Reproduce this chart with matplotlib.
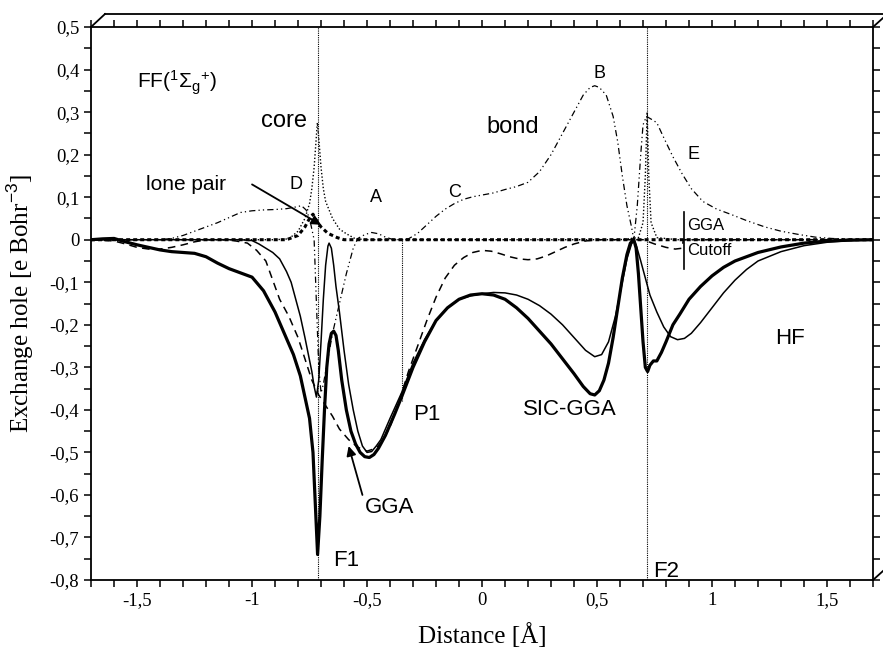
import matplotlib
matplotlib.use("Agg")
import matplotlib.pyplot as plt
from matplotlib.lines import Line2D
from matplotlib.ticker import MultipleLocator, FuncFormatter

plt.rcParams['axes.unicode_minus'] = False
plt.rcParams['mathtext.fontset'] = 'custom'
plt.rcParams['mathtext.rm'] = 'Liberation Sans'
plt.rcParams['mathtext.it'] = 'Liberation Sans'

# 1) data
# SIC-GGA (thick solid)
sic_x = [-1.70, -1.65, -1.60, -1.55, -1.50, -1.45, -1.40, -1.35, -1.30, -1.25, -1.20, -1.15,
         -1.10, -1.05, -1.00, -0.95, -0.90, -0.86, -0.82, -0.79, -0.77, -0.75, -0.735, -0.725,
         -0.715, -0.705, -0.695, -0.685, -0.675, -0.665, -0.655, -0.645, -0.635, -0.625, -0.61,
         -0.59, -0.57, -0.55, -0.53, -0.51, -0.49, -0.47, -0.45, -0.42, -0.38, -0.35, -0.30,
         -0.25, -0.20, -0.15, -0.10, -0.05, 0.00, 0.05, 0.10, 0.15, 0.20, 0.25, 0.30, 0.35,
         0.40, 0.44, 0.47, 0.49, 0.51, 0.53, 0.55, 0.57, 0.59, 0.61, 0.63, 0.645, 0.66, 0.67,
         0.68, 0.69, 0.70, 0.71, 0.72, 0.73, 0.745, 0.76, 0.78, 0.80, 0.83, 0.86, 0.90, 0.95,
         1.00, 1.05, 1.10, 1.20, 1.30, 1.40, 1.50, 1.60, 1.70]
sic_y = [0.0, 0.002, 0.003, -0.005, -0.012, -0.018, -0.024, -0.028, -0.030, -0.032, -0.040, -0.055,
         -0.068, -0.078, -0.088, -0.12, -0.17, -0.22, -0.27, -0.32, -0.37, -0.42, -0.50, -0.62,
         -0.74, -0.65, -0.52, -0.40, -0.30, -0.245, -0.22, -0.215, -0.225, -0.26, -0.33,
         -0.40, -0.45, -0.48, -0.50, -0.51, -0.512, -0.505, -0.49, -0.46, -0.41, -0.37, -0.30,
         -0.24, -0.19, -0.16, -0.14, -0.13, -0.127, -0.13, -0.14, -0.16, -0.185, -0.215, -0.245, -0.28,
         -0.315, -0.345, -0.362, -0.365, -0.355, -0.33, -0.29, -0.23, -0.16, -0.09, -0.035, -0.008, 0.0, -0.02,
         -0.08, -0.16, -0.24, -0.30, -0.31, -0.295, -0.285, -0.285, -0.265, -0.24, -0.20, -0.175, -0.14, -0.11,
         -0.085, -0.065, -0.05, -0.03, -0.017, -0.008, -0.003, -0.001, 0.0]

# HF (thin solid)
hf_x = [-1.70, -1.05, -1.00, -0.97, -0.94, -0.91, -0.88, -0.85, -0.83, -0.81, -0.79, -0.77,
        -0.755, -0.74, -0.73, -0.72, -0.71, -0.70, -0.69, -0.68, -0.67, -0.665, -0.655, -0.645,
        -0.635, -0.62, -0.60, -0.58, -0.56, -0.54, -0.52, -0.50, -0.48, -0.46, -0.44, -0.40,
        -0.35, -0.30, -0.25, -0.20, -0.15, -0.10, -0.05, 0.00, 0.05, 0.10, 0.15, 0.20, 0.25,
        0.30, 0.35, 0.40, 0.45, 0.49, 0.52, 0.55, 0.58, 0.61, 0.63, 0.65, 0.66, 0.67, 0.69,
        0.71, 0.73, 0.76, 0.79, 0.82, 0.85, 0.88, 0.91, 0.95, 1.00, 1.05, 1.10, 1.15, 1.20,
        1.30, 1.40, 1.50, 1.60, 1.70]
hf_y = [0.0, 0.0, -0.002, -0.01, -0.02, -0.03, -0.045, -0.075, -0.10, -0.14, -0.18, -0.23,
        -0.27, -0.31, -0.345, -0.37, -0.33, -0.24, -0.14, -0.06, -0.015, -0.008, -0.02, -0.06,
        -0.11, -0.17, -0.26, -0.34, -0.40, -0.45, -0.485, -0.50, -0.498, -0.485, -0.47, -0.42,
        -0.36, -0.29, -0.235, -0.19, -0.16, -0.14, -0.132, -0.127, -0.124, -0.125, -0.13, -0.14, -0.155,
        -0.175, -0.20, -0.23, -0.26, -0.275, -0.27, -0.24, -0.18, -0.10, -0.045, -0.01, -0.002, -0.012, -0.05,
        -0.09, -0.13, -0.17, -0.205, -0.228, -0.235, -0.232, -0.22, -0.195, -0.16, -0.125, -0.095, -0.07, -0.05,
        -0.028, -0.014, -0.006, -0.002, 0.0]

# GGA (thin dashed)
gga_x = [-1.70, -1.60, -1.55, -1.50, -1.45, -1.40, -1.35, -1.30, -1.25, -1.20, -1.10, -1.02,
         -0.98, -0.94, -0.91, -0.88, -0.84, -0.80, -0.77, -0.74, -0.71, -0.68, -0.65, -0.62,
         -0.58, -0.54, -0.50, -0.46, -0.43, -0.40, -0.36, -0.32, -0.28, -0.24, -0.20, -0.16,
         -0.12, -0.08, -0.04, 0.00, 0.04, 0.08, 0.12, 0.16, 0.20, 0.24, 0.28, 0.32, 0.36, 0.40,
         0.45, 0.50, 0.70, 0.75, 0.80, 0.84, 0.87, 0.875, 1.70]
gga_y = [0.0, -0.003, -0.01, -0.018, -0.022, -0.022, -0.018, -0.012, -0.005, 0.0, 0.0, -0.008,
         -0.025, -0.05, -0.095, -0.14, -0.18, -0.23, -0.28, -0.33, -0.365, -0.39, -0.415, -0.445,
         -0.47, -0.488, -0.497, -0.49, -0.47, -0.44, -0.38, -0.31, -0.25, -0.19, -0.135, -0.09,
         -0.06, -0.042, -0.03, -0.025, -0.027, -0.033, -0.04, -0.045, -0.047, -0.045, -0.038, -0.028, -0.018, -0.01,
         -0.003, 0.0, 0.0, -0.01, -0.018, -0.022, -0.02, 0.0, 0.0]

# bond / lone pair density (dash-dot-dot)
bond_x = [-1.70, -1.40, -1.35, -1.30, -1.25, -1.20, -1.15, -1.10, -1.05, -1.00, -0.95, -0.90,
          -0.85, -0.81, -0.785, -0.765, -0.75, -0.74, -0.73, -0.72, -0.71, -0.70, -0.69, -0.67,
          -0.65, -0.62, -0.59, -0.56, -0.54, -0.51, -0.48, -0.45, -0.42, -0.39, -0.36, -0.32,
          -0.28, -0.24, -0.20, -0.16, -0.12, -0.08, -0.04, 0.00, 0.05, 0.10, 0.15, 0.20, 0.25,
          0.30, 0.35, 0.40, 0.44, 0.47, 0.49, 0.51, 0.54, 0.57, 0.59, 0.61, 0.63, 0.65, 0.66,
          0.675, 0.69, 0.70, 0.715, 0.74, 0.76, 0.79, 0.83, 0.87, 0.91, 0.96, 1.02, 1.08, 1.15,
          1.23, 1.30, 1.38, 1.45, 1.52, 1.60, 1.70]
bond_y = [0.0, 0.0, 0.003, 0.01, 0.02, 0.03, 0.04, 0.052, 0.064, 0.068, 0.07, 0.071,
          0.073, 0.077, 0.08, 0.07, 0.05, 0.025, 0.0, -0.15, -0.30, -0.36, -0.34, -0.28,
          -0.22, -0.15, -0.08, -0.02, 0.003, 0.012, 0.017, 0.014, 0.006, 0.001, 0.0, 0.002,
          0.015, 0.035, 0.055, 0.072, 0.085, 0.095, 0.101, 0.105, 0.11, 0.118, 0.125, 0.135, 0.16,
          0.20, 0.25, 0.30, 0.34, 0.358, 0.362, 0.358, 0.34, 0.29, 0.23, 0.15, 0.08, 0.03, 0.0,
          0.08, 0.20, 0.27, 0.29, 0.282, 0.275, 0.24, 0.195, 0.155, 0.12, 0.09, 0.072, 0.06, 0.045,
          0.03, 0.02, 0.012, 0.006, 0.003, 0.001, 0.0]

# core density (dotted)
core_x = [-1.70, -0.90, -0.84, -0.80, -0.77, -0.75, -0.74, -0.73, -0.722, -0.716, -0.71, -0.70,
          -0.69, -0.68, -0.65, -0.62, -0.59, -0.55, -0.50, 0.60, 0.68, 0.70, 0.71, 0.718, 0.725,
          0.735, 0.76, 0.85, 1.70]
core_y = [0.0, 0.0, 0.002, 0.02, 0.05, 0.085, 0.12, 0.17, 0.23, 0.275, 0.24, 0.17,
          0.12, 0.09, 0.05, 0.025, 0.014, 0.002, 0.0, 0.0, 0.005, 0.04, 0.15, 0.30, 0.15,
          0.04, 0.005, 0.0, 0.0]

# lone pair (heavy dashed along zero)
lp_x = [-1.70, -0.85, -0.80, -0.77, -0.75, -0.735, -0.72, -0.70, -0.67, -0.63, -0.60, 1.70]
lp_y = [0.0, 0.0, 0.01, 0.03, 0.05, 0.06, 0.045, 0.03, 0.015, 0.005, 0.0, 0.0]

# atom / point positions
f1_x = -0.715
f2_x = 0.717
p1_x = -0.35
p1_y = -0.38
cutoff_x = 0.878

# 2) canvas
fig = plt.figure(figsize=(8.83, 6.48), dpi=100)
ax = fig.add_axes([0.1031, 0.1049, 0.8856, 0.8534])

# 3) curves
ax.plot(lp_x, lp_y, color='k', lw=2.2, dashes=(1.3, 1.0))
ax.plot(bond_x, bond_y, color='k', lw=0.9, dashes=(5, 2.5, 1, 2.5, 1, 2.5))
ax.plot(core_x, core_y, color='k', lw=1.0, dashes=(1, 1.5))
ax.plot(gga_x, gga_y, color='k', lw=1.1, dashes=(5, 3.5))
ax.plot(hf_x, hf_y, color='k', lw=1.1)
ax.plot(sic_x, sic_y, color='k', lw=2.3)

# vertical markers
ax.axvline(f1_x, color='k', lw=0.8, dashes=(1, 1))
ax.axvline(f2_x, color='k', lw=0.8, dashes=(1, 1))
ax.plot([p1_x, p1_x], [0, p1_y], color='k', lw=0.8, dashes=(1, 1))
ax.plot([cutoff_x, cutoff_x], [0.064, -0.068], color='k', lw=1.2)

# 4) labels
sans = 'Liberation Sans'
ax.text(-1.50, 0.37, r'FF($^{1}\Sigma_{\mathrm{g}}{}^{+}$)', fontsize=15, family=sans, va='center')
ax.text(-0.96, 0.28, 'core', fontsize=17, family=sans, va='center')
ax.text(0.02, 0.265, 'bond', fontsize=17, family=sans, va='center')
ax.text(-1.46, 0.13, 'lone pair', fontsize=15, family=sans, va='center')
ax.text(-0.81, 0.13, 'D', fontsize=13, family=sans, ha='center', va='center')
ax.text(-0.46, 0.10, 'A', fontsize=13, family=sans, ha='center', va='center')
ax.text(-0.12, 0.11, 'C', fontsize=13, family=sans, ha='center', va='center')
ax.text(0.51, 0.39, 'B', fontsize=13, family=sans, ha='center', va='center')
ax.text(0.92, 0.20, 'E', fontsize=13, family=sans, ha='center', va='center')
ax.text(0.89, 0.033, 'GGA', fontsize=12, family=sans, va='center')
ax.text(0.89, -0.026, 'Cutoff', fontsize=12, family=sans, va='center')
ax.text(1.34, -0.233, 'HF', fontsize=16, family=sans, ha='center', va='center')
ax.text(0.38, -0.40, 'SIC-GGA', fontsize=16, family=sans, ha='center', va='center')
ax.text(-0.24, -0.41, 'P1', fontsize=16, family=sans, ha='center', va='center')
ax.text(-0.40, -0.63, 'GGA', fontsize=16, family=sans, ha='center', va='center')
ax.text(-0.59, -0.755, 'F1', fontsize=16, family=sans, ha='center', va='center')
ax.text(0.80, -0.78, 'F2', fontsize=16, family=sans, ha='center', va='center')

ax.annotate('', xy=(-0.70, 0.035), xytext=(-1.0, 0.13),
            arrowprops=dict(arrowstyle='-|>', color='k', lw=1.3, mutation_scale=14, shrinkA=0, shrinkB=0))
ax.annotate('', xy=(-0.58, -0.485), xytext=(-0.52, -0.60),
            arrowprops=dict(arrowstyle='-|>', color='k', lw=1.3, mutation_scale=14, shrinkA=0, shrinkB=0))

# 5) axes
ax.set_xlim(-1.7, 1.7)
ax.set_ylim(-0.8, 0.5)
ax.xaxis.set_major_locator(MultipleLocator(0.5))
ax.xaxis.set_minor_locator(MultipleLocator(0.1))
ax.yaxis.set_major_locator(MultipleLocator(0.1))
ax.yaxis.set_minor_locator(MultipleLocator(0.05))


def comma(v, pos):
    s = '%g' % round(v, 2)
    return s.replace('.', ',')


ax.xaxis.set_major_formatter(FuncFormatter(comma))
ax.yaxis.set_major_formatter(FuncFormatter(comma))
ax.tick_params(which='both', direction='out', length=5, width=1.1, top=True, right=True,
               labeltop=False, labelright=False)
for lab in ax.get_xticklabels() + ax.get_yticklabels():
    lab.set_family('Liberation Serif')
    lab.set_fontsize(13.5)
for sp in ax.spines.values():
    sp.set_linewidth(1.3)

ax.set_xlabel('Distance [Å]', family='Liberation Serif', fontsize=18, labelpad=10)
ax.set_ylabel('Exchange hole [e Bohr$^{-3}$]', family='Liberation Serif', fontsize=18, labelpad=10)

# 6) box frame behind the plot
W, H = 883.0, 648.0
frame = [((91, 27), (105, 14)), ((105, 14), (883, 14)),
         ((873, 27), (883, 18)), ((873, 580), (883, 571))]
for (x0, y0), (x1, y1) in frame:
    fig.add_artist(Line2D([x0 / W, x1 / W], [1 - y0 / H, 1 - y1 / H],
                          transform=fig.transFigure, color='k', lw=1.3))

plt.savefig('out.png', dpi=100)
